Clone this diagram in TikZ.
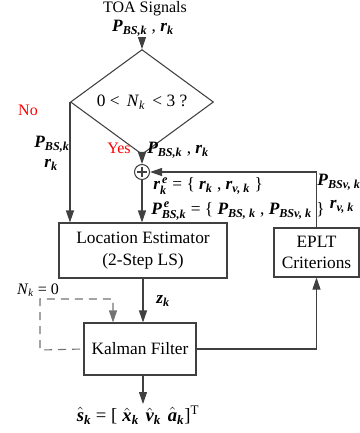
\documentclass[tikz,border=0pt]{standalone}
\usepackage{amsmath}
\usepackage{fontspec}
\setmainfont{Liberation Serif}
\usetikzlibrary{arrows.meta,shapes.geometric}
\newcommand\bi[1]{\text{\bfseries\itshape #1}}
\begin{document}
\begin{tikzpicture}[x=0.75pt,y=-0.75pt, font=\fontsize{12}{14}\selectfont,
  line/.style={draw=black!75, line width=0.8pt},
  arr/.style={line, -{Triangle[length=9pt,width=6pt]}},
  dashline/.style={draw=black!55, line width=0.8pt, dash pattern=on 6pt off 4.5pt, -{Triangle[length=9pt,width=6pt]}},
  box/.style={draw=black!75, line width=0.8pt, rectangle, align=center, inner sep=0pt, font=\fontsize{13}{16}\selectfont},
  lab/.style={inner sep=0pt},
  mlab/.style={inner sep=0pt, font=\fontsize{13}{15}\selectfont},
  redlab/.style={inner sep=0pt, text=red}]
\useasboundingbox (0,0) rectangle (360,433);
% top input
\node[lab] (toa) at (145,9) {TOA Signals};
\node[mlab] (in) at (143,28) {$\bi{P}_{\bi{BS,k}}$ , $\bi{r}_{\bi{k}}$};
\coordinate (instart) at (142,38);
\node[draw=black!75, line width=0.8pt, diamond, minimum width=107.25pt, minimum height=57pt, inner sep=0pt, font=\fontsize{13}{15}\selectfont] (dec) at (142,102) {0 <\, \textit{N}$_{\textit{k}}$\, < 3 ?};
\draw[arr] (instart) -- (dec.north);
% boxes
\node[box, minimum width=126pt, minimum height=41.25pt] (loc) at (143,250.5) {Location Estimator\\(2-Step LS)};
\node[box, minimum width=63.75pt, minimum height=36.75pt] (eplt) at (316.5,252.5) {EPLT\\Criterions};
\node[box, minimum width=84pt, minimum height=39pt] (kal) at (140,349) {Kalman Filter};
\node[draw=black!75, line width=0.8pt, circle, minimum size=11.25pt, inner sep=0pt] (sum) at (142,172) {};
\draw[line, line width=1pt] ([xshift=-3.6pt]sum.center) -- ([xshift=3.6pt]sum.center)
  ([yshift=-3.6pt]sum.center) -- ([yshift=3.6pt]sum.center);
% labels
\node[redlab] (no) at (28,110) {No};
\node[redlab] (yes) at (119,148) {Yes};
\node[mlab] (lp) at (52,144) {$\bi{P}_{\bi{BS,k}}$};
\node[mlab] (lr) at (51,165) {$\bi{r}_{\bi{k}}$};
\node[mlab, anchor=west] (yl) at (147,150) {$\bi{P}_{\bi{BS,k}}$ , $\bi{r}_{\bi{k}}$};
\node[mlab, anchor=west] (re) at (153,186) {$\bi{r}^{\,\bi{e}}_{\bi{k}}$ = \{ $\bi{r}_{\bi{k}}$ , $\bi{r}_{\bi{v, k}}$ \}};
\node[mlab, anchor=west] (pe) at (151,211) {$\bi{P}^{\,\bi{e}}_{\bi{BS,k}}$ = \{ $\bi{P}_{\bi{BS, k}}$ , $\bi{P}_{\bi{BSv, k}}$ \}};
\node[mlab] (pv) at (339,182) {$\bi{P}_{\bi{BSv, k}}$};
\node[mlab] (rv) at (342,207) {$\bi{r}_{\bi{v, k}}$};
\node[mlab] (zk) at (163,301) {$\bi{z}_{\bi{k}}$};
\node[lab] (nk) at (38,290) {\textit{N}$_{\textit{k}}$ = 0};
\node[mlab, font=\fontsize{14}{16}\selectfont] (out) at (138,415) {$\hat{\bi{s}}_{\bi{k}}$ = [\;$\hat{\bi{x}}_{\bi{k}}$\hspace{5pt}$\hat{\bi{v}}_{\bi{k}}$\hspace{5pt}$\hat{\bi{a}}_{\bi{k}}$]$^{\text{T}}$};
% connectors
\draw[arr] (dec.west) -- (dec.west |- loc.north);
\draw[arr] (dec.south) -- (sum.north);
\draw[arr] (sum.south) -- (sum.south |- loc.north);
\draw[arr] (eplt.north) -- (eplt.north |- sum.east) -- (sum.east);
\draw[arr] (loc.south) -- (loc.south |- kal.north);
\draw[arr] (kal.east) -- (kal.east -| eplt.south) -- (eplt.south);
\coordinate (outend) at (143,404);
\draw[arr] (kal.south -| loc.south) -- (outend);
\coordinate (d1) at (40,350);
\coordinate (d2) at (40,299);
\coordinate (d3) at (113,299);
\draw[dashline, dash phase=8pt] (kal.west) -- (d1) -- (d2) -- (d3) -- (d3 |- kal.north);
\end{tikzpicture}
\end{document}
